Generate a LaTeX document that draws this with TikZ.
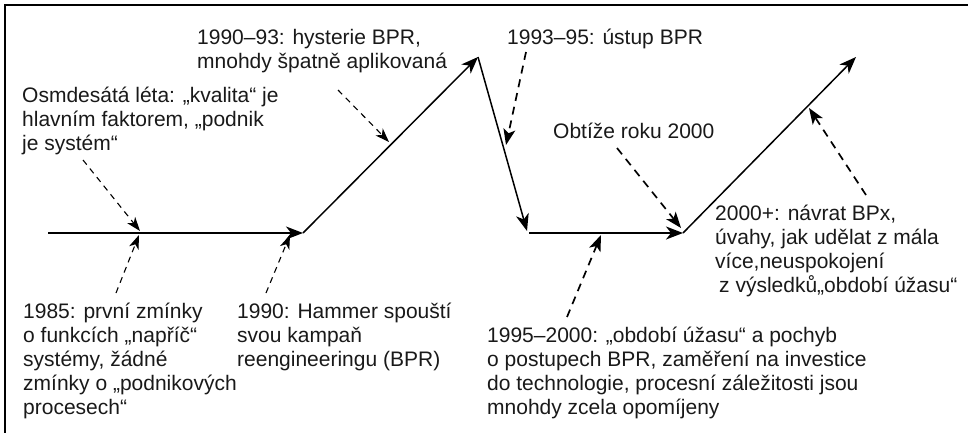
\documentclass[tikz,border=0pt]{standalone}
\usepackage{fontspec}
\setmainfont{Liberation Sans}
\usetikzlibrary{arrows.meta}
\begin{document}
\begin{tikzpicture}[x=1pt,y=-1pt,
  lbl/.style={anchor=base west, inner sep=0pt, align=left, font=\fontsize{21}{24}\selectfont, text=black!90},
  mainarrow/.style={line width=1.5pt, -{Stealth[length=17pt,width=13pt,inset=5pt]}},
  thindash/.style={line width=1.1pt, dash pattern=on 6pt off 5pt, -{Stealth[length=14pt,width=10pt,inset=4pt]}},
  thickdash/.style={line width=1.7pt, dash pattern=on 8pt off 6pt, -{Stealth[length=16pt,width=12pt,inset=4pt]}},
  frame/.style={line width=1.4pt}
]
\useasboundingbox (0,0) rectangle (968,433);
% frame (top and left edges)
\coordinate (fbl) at (5,433);
\coordinate (ftl) at (5,5);
\coordinate (ftr) at (968,5);
\draw[frame] (fbl) -- (ftl) -- (ftr);

% main path
\coordinate (a0) at (48,233);
\coordinate (a1) at (303,233);
\coordinate (a2) at (478,57);
\coordinate (a3) at (527,231);
\coordinate (a3b) at (529,233);
\coordinate (a4) at (683,233);
\coordinate (a5) at (856,57);
\draw[mainarrow] (a0) -- (a1);
\draw[mainarrow] (a1) -- (a2);
\draw[mainarrow] (a2) -- (a3);
\draw[mainarrow] (a3b) -- (a4);
\draw[mainarrow] (a4) -- (a5);

% labels (anchor = baseline of the last line)
\node[lbl] (t1) at (22,150) {Osmdesátá léta: „kvalita“ je\\hlavním faktorem, „podnik\\je systém“};
\node[lbl] (t2) at (197,69) {1990–93: hysterie BPR,\\mnohdy špatně aplikovaná};
\node[lbl] (t3) at (507,45) {1993–95: ústup BPR};
\node[lbl] (t4) at (553,138) {Obtíže roku 2000};
\node[lbl] (t5) at (23,414) {1985: první zmínky\\o funkcích „napříč“\\systémy, žádné\\zmínky o „podnikových\\procesech“};
\node[lbl] (t6) at (237,366) {1990: Hammer spouští\\svou kampaň\\reengineeringu (BPR)};
\node[lbl] (t7) at (487,414) {1995–2000: „období úžasu“ a pochyb\\o postupech BPR, zaměření na investice\\do technologie, procesní záležitosti jsou\\mnohdy zcela opomíjeny};
\node[lbl] (t8) at (715,292) {2000+: návrat BPx,\\úvahy, jak udělat z mála\\více,neuspokojení\\\hspace{4pt}z výsledků„období úžasu“};

% dashed pointers
\coordinate (s1) at (83,160);  \coordinate (e1) at (140,231);
\coordinate (s2) at (116,293); \coordinate (e2) at (139,235);
\coordinate (s3) at (266,293); \coordinate (e3) at (290,235);
\coordinate (s4) at (338,90);  \coordinate (e4) at (389,142);
\coordinate (s5) at (526,52);  \coordinate (e5) at (506,145);
\coordinate (s6) at (617,148); \coordinate (e6) at (681,228);
\coordinate (s7) at (567,317); \coordinate (e7) at (601,235);
\coordinate (s8) at (866,195); \coordinate (e8) at (809,108);
\draw[thindash] (s1) -- (e1);
\draw[thindash] (s2) -- (e2);
\draw[thindash] (s3) -- (e3);
\draw[thindash] (s4) -- (e4);
\draw[thickdash] (s5) -- (e5);
\draw[thickdash] (s6) -- (e6);
\draw[thickdash] (s7) -- (e7);
\draw[thickdash] (s8) -- (e8);
\end{tikzpicture}
\end{document}
